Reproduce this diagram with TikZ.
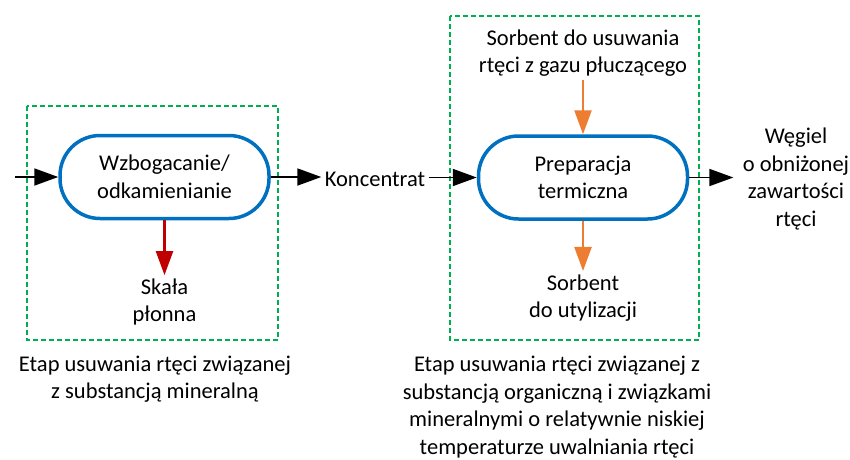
\documentclass[tikz,border=0pt]{standalone}
\usepackage{fontspec}
\setmainfont{Carlito}
\usepackage{tikz}
\usetikzlibrary{arrows.meta}
\definecolor{pillblue}{RGB}{0,112,192}
\definecolor{stagegreen}{RGB}{0,176,80}
\definecolor{wastered}{RGB}{192,0,0}
\definecolor{sorborange}{RGB}{237,125,49}

\begin{document}
\begin{tikzpicture}[x=1pt,y=-1pt,
    font=\fontsize{22.5}{27.5}\selectfont,
    txt/.style={align=center},
    caption/.style={align=center,inner sep=1pt},
    pill/.style={draw=pillblue,line width=3.5pt,rounded corners=40pt,
      minimum width=209pt,minimum height=83pt,align=center},
    stage/.style={draw=stagegreen,line width=2.2pt,dash pattern=on 5pt off 3pt},
    flow/.style={line width=1.8pt,-{Triangle[length=24pt,width=17pt]}},
    waste/.style={flow,draw=wastered,fill=wastered,line width=2.4pt},
    sorb/.style={flow,draw=sorborange,fill=sorborange,line width=2.4pt}]
    \useasboundingbox (0,0) rectangle (850,459);
    % stage frames
    \draw[stage] (27,106) rectangle (278,340);
    \draw[stage] (450,16) rectangle (699,340);
    % process blocks
    \node[pill] (wzb) at (164.5,177) {Wzbogacanie/\\odkamienianie};
    \node[pill] (prep) at (583,177.5) {Preparacja\\termiczna};
    \coordinate (in) at (15,177);
    \node[txt] (konc) at (375,179) {Koncentrat};
    \node[txt] (skala) at (164.5,302) {Skała\\płonna};
    \node[txt] (sorbin) at (583,53) {Sorbent do usuwania\\rtęci z gazu płuczącego};
    \node[txt] (sorbout) at (583,298) {Sorbent\\do utylizacji};
    \node[txt] (wegiel) at (796,179) {Węgiel\\o obniżonej\\zawartości\\rtęci};
    \node[caption] (cap1) at (155,379) {Etap usuwania rtęci związanej\\z substancją mineralną};
    \node[caption] (cap2) at (557,407) {Etap usuwania rtęci związanej z\\substancją organiczną i związkami\\mineralnymi o relatywnie niskiej\\temperaturze uwalniania rtęci};
    % connections
    \draw[flow] (in) -- (wzb.west);
    \draw[flow] (wzb.east) -- (wzb.east -| konc.west);
    \draw[flow] (prep.west -| konc.east) -- (prep.west);
    \draw[flow,shorten >=6pt] (prep.east) -- (prep.east -| wegiel.west);
    \draw[waste] (wzb.south) -- (skala.north);
    \draw[sorb] (sorbin.south) -- (prep.north);
    \draw[sorb] (prep.south) -- (sorbout.north);
\end{tikzpicture}
\end{document}
